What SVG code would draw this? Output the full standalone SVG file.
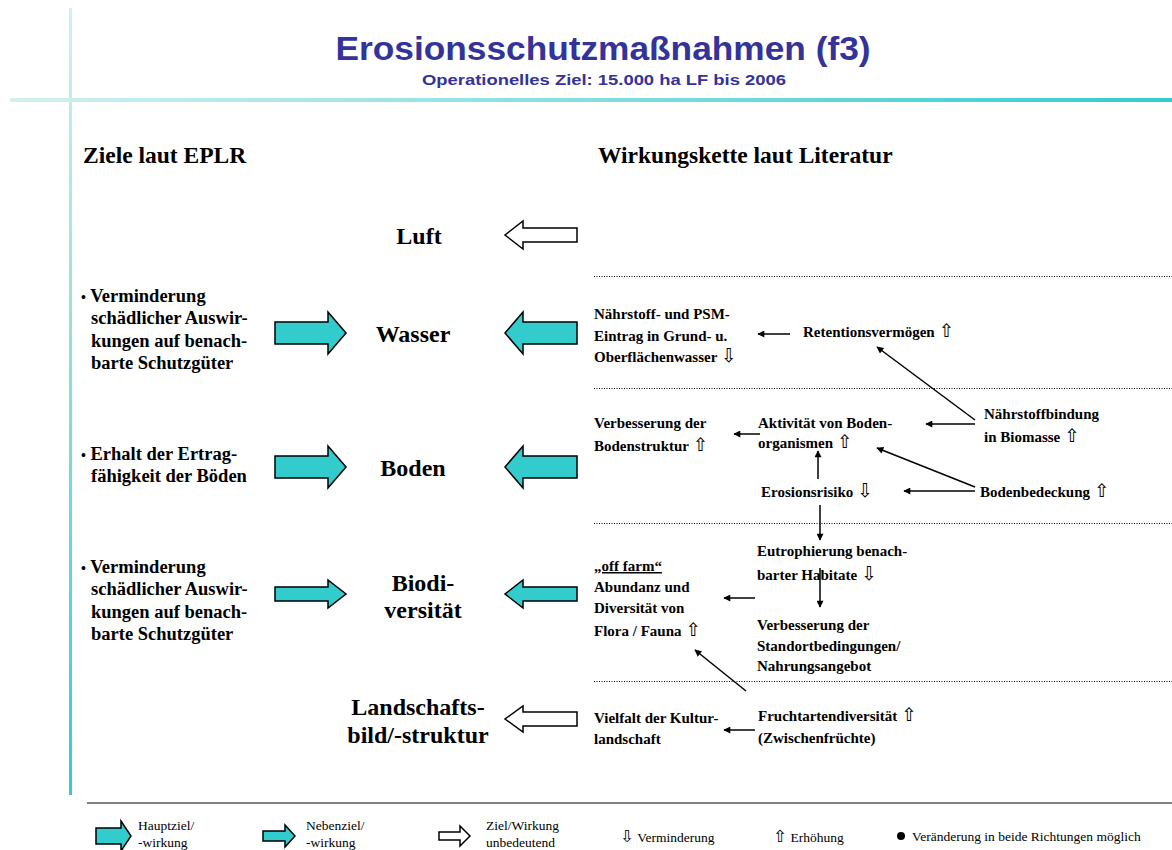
<svg xmlns="http://www.w3.org/2000/svg" width="1172" height="850" viewBox="0 0 1172 850">
<defs>
<linearGradient id="gv" x1="0" y1="0" x2="0" y2="1"><stop offset="0" stop-color="#d2f0f0"/><stop offset="1" stop-color="#33cccc"/></linearGradient>
<linearGradient id="gh" x1="0" y1="0" x2="1" y2="0"><stop offset="0" stop-color="#d2f0f0"/><stop offset="1" stop-color="#33cccc"/></linearGradient>
<marker id="ah" viewBox="0 0 10 10" refX="9" refY="5" markerWidth="9" markerHeight="7" markerUnits="userSpaceOnUse" orient="auto"><path d="M0,0 L10,5 L0,10 Z" fill="#000"/></marker>
<style>
.t{font-family:"Liberation Serif","DejaVu Serif",serif;font-weight:bold;fill:#000}
.h{font-size:23.5px}
.big{font-size:24px;text-anchor:middle}
.l{font-size:18.5px}
.r{font-size:15px}
.lg{font-family:"Liberation Serif","DejaVu Serif",serif;font-size:13.5px;fill:#000}
.sym{font-family:"DejaVu Sans",sans-serif;font-weight:normal;fill:#000;font-variant-emoji:text;font-size:1.25em}
.cy{fill:#33cccc;stroke:#000;stroke-width:1.5}
.wh{fill:#fff;stroke:#000;stroke-width:1.5}
.dot{stroke:#000;stroke-width:1;stroke-dasharray:1 1.5}
.c{stroke:#000;stroke-width:1.5;fill:none;marker-end:url(#ah)}
</style>
</defs>
<rect width="1172" height="850" fill="#fff"/>
<rect x="69" y="8" width="3" height="787" fill="url(#gv)"/>
<rect x="10" y="98" width="1162" height="4" fill="url(#gh)"/>
<g id="title">
<text x="603" y="60" font-family="Liberation Sans,Arial,sans-serif" font-weight="bold" font-size="34" fill="#333399" text-anchor="middle" textLength="535" lengthAdjust="spacingAndGlyphs">Erosionsschutzmaßnahmen (f3)</text>
<text x="604" y="85" font-family="Liberation Sans,Arial,sans-serif" font-weight="bold" font-size="14" fill="#333399" text-anchor="middle" textLength="364" lengthAdjust="spacingAndGlyphs">Operationelles Ziel: 15.000 ha LF bis 2006</text>
</g>
<g id="headers">
<text class="t h" x="83" y="163">Ziele laut EPLR</text>
<text class="t h" x="598" y="163">Wirkungskette laut Literatur</text>
</g>
<g id="separators">
<line class="dot" x1="594" y1="276.5" x2="1172" y2="276.5"/>
<line class="dot" x1="594" y1="388.5" x2="1172" y2="388.5"/>
<line class="dot" x1="594" y1="523.5" x2="1172" y2="523.5"/>
<line class="dot" x1="594" y1="681.5" x2="1172" y2="681.5"/>
</g>
<g id="goal-wasser">
<text class="t l" x="81" y="302"><tspan font-size="14">•</tspan> Verminderung</text>
<text class="t l" x="91" y="324">schädlicher Auswir-</text>
<text class="t l" x="91" y="347">kungen auf benach-</text>
<text class="t l" x="91" y="369">barte Schutzgüter</text>
</g>
<g id="goal-boden">
<text class="t l" x="81" y="460"><tspan font-size="14">•</tspan> Erhalt der Ertrag-</text>
<text class="t l" x="91" y="482">fähigkeit der Böden</text>
</g>
<g id="goal-biodiv">
<text class="t l" x="81" y="573"><tspan font-size="14">•</tspan> Verminderung</text>
<text class="t l" x="91" y="595">schädlicher Auswir-</text>
<text class="t l" x="91" y="618">kungen auf benach-</text>
<text class="t l" x="91" y="640">barte Schutzgüter</text>
</g>
<g id="arrows-goal">
<path class="cy" d="M275,322 H328 V312 L346,333 L328,354 V344 H275 Z"/>
<path class="cy" d="M275,456 H328 V446 L346,467 L328,488 V478 H275 Z"/>
<path class="cy" d="M275,587 H328 V580 L346,594 L328,608 V601 H275 Z"/>
</g>
<g id="node-luft"><text class="t big" x="419" y="244">Luft</text></g>
<g id="node-wasser"><text class="t big" x="413" y="342">Wasser</text></g>
<g id="node-boden"><text class="t big" x="413" y="476">Boden</text></g>
<g id="node-biodiv"><text class="t big" x="423" y="591">Biodi-</text><text class="t big" x="423" y="618">versität</text></g>
<g id="node-landschaft"><text class="t big" x="418" y="715">Landschafts-</text><text class="t big" x="418" y="743">bild/-struktur</text></g>
<g id="arrows-effect">
<path class="wh" d="M577,228 H523 V221 L505,235 L523,249 V242 H577 Z"/>
<path class="cy" d="M577,322 H523 V312 L505,333 L523,354 V344 H577 Z"/>
<path class="cy" d="M577,456 H523 V446 L505,467 L523,488 V478 H577 Z"/>
<path class="cy" d="M577,587 H523 V580 L505,594 L523,608 V601 H577 Z"/>
<path class="wh" d="M577,712 H523 V706 L505,719 L523,732 V726 H577 Z"/>
</g>
<g id="n-eintrag">
<text class="t r" x="594" y="319">Nährstoff- und PSM-</text>
<text class="t r" x="594" y="341">Eintrag in Grund- u.</text>
<text class="t r" x="594" y="362">Oberflächenwasser <tspan class="sym">&#x21E9;&#xFE0E;</tspan></text>
</g>
<g id="n-retention"><text class="t r" x="803" y="337">Retentionsvermögen <tspan class="sym">&#x21E7;&#xFE0E;</tspan></text></g>
<g id="n-bodenstruktur">
<text class="t r" x="594" y="428">Verbesserung der</text>
<text class="t r" x="594" y="451">Bodenstruktur <tspan class="sym">&#x21E7;&#xFE0E;</tspan></text>
</g>
<g id="n-aktivitaet">
<text class="t r" x="758" y="428">Aktivität von Boden-</text>
<text class="t r" x="758" y="448">organismen <tspan class="sym">&#x21E7;&#xFE0E;</tspan></text>
</g>
<g id="n-naehrstoffbindung">
<text class="t r" x="984" y="419">Nährstoffbindung</text>
<text class="t r" x="984" y="442">in Biomasse <tspan class="sym">&#x21E7;&#xFE0E;</tspan></text>
</g>
<g id="n-erosionsrisiko"><text class="t r" x="761" y="497">Erosionsrisiko <tspan class="sym">&#x21E9;&#xFE0E;</tspan></text></g>
<g id="n-bodenbedeckung"><text class="t r" x="980" y="497">Bodenbedeckung <tspan class="sym">&#x21E7;&#xFE0E;</tspan></text></g>
<g id="n-eutrophierung">
<text class="t r" x="757" y="556">Eutrophierung benach-</text>
<text class="t r" x="757" y="580">barter Habitate <tspan class="sym">&#x21E9;&#xFE0E;</tspan></text>
</g>
<g id="n-standort">
<text class="t r" x="757" y="630">Verbesserung der</text>
<text class="t r" x="757" y="651">Standortbedingungen/</text>
<text class="t r" x="757" y="671">Nahrungsangebot</text>
</g>
<g id="n-abundanz">
<text class="t r" x="594" y="571" text-decoration="underline">„off farm“</text>
<text class="t r" x="594" y="592">Abundanz und</text>
<text class="t r" x="594" y="613">Diversität von</text>
<text class="t r" x="594" y="636">Flora / Fauna <tspan class="sym">&#x21E7;&#xFE0E;</tspan></text>
</g>
<g id="n-vielfalt">
<text class="t r" x="594" y="723">Vielfalt der Kultur-</text>
<text class="t r" x="594" y="744">landschaft</text>
</g>
<g id="n-frucht">
<text class="t r" x="758" y="721">Fruchtartendiversität <tspan class="sym">&#x21E7;&#xFE0E;</tspan></text>
<text class="t r" x="758" y="743">(Zwischenfrüchte)</text>
</g>
<g id="connectors">
<line class="c" x1="790" y1="334" x2="758" y2="334"/>
<line class="c" x1="975" y1="420" x2="877" y2="347"/>
<line class="c" x1="760" y1="434" x2="734" y2="434"/>
<line class="c" x1="975" y1="424" x2="926" y2="424"/>
<line class="c" x1="975" y1="491" x2="904" y2="491"/>
<line class="c" x1="975" y1="487" x2="877" y2="448"/>
<line class="c" x1="818" y1="479" x2="818" y2="451"/>
<line class="c" x1="820" y1="505" x2="820" y2="540"/>
<line class="c" x1="820" y1="568" x2="820" y2="607"/>
<line class="c" x1="755" y1="598" x2="724" y2="598"/>
<line class="c" x1="746" y1="691" x2="695" y2="650"/>
<line class="c" x1="755" y1="730" x2="724" y2="730"/>
</g>
<g id="legend">
<line x1="87" y1="803" x2="1172" y2="803" stroke="#808080" stroke-width="2"/>
<path class="cy" d="M96,828 H121 V821 L131,836 L121,851 V844 H96 Z"/>
<text class="lg" x="138" y="830">Hauptziel/</text>
<text class="lg" x="138" y="847">-wirkung</text>
<path class="cy" d="M263,831 H285 V825 L295,836 L285,847 V841 H263 Z"/>
<text class="lg" x="306" y="830">Nebenziel/</text>
<text class="lg" x="306" y="847">-wirkung</text>
<path class="wh" d="M439,832 H460 V826 L470,836 L460,846 V840 H439 Z"/>
<text class="lg" x="486" y="830">Ziel/Wirkung</text>
<text class="lg" x="486" y="847">unbedeutend</text>
<text class="lg" x="620" y="842"><tspan class="sym">&#x21E9;&#xFE0E;</tspan> Verminderung</text>
<text class="lg" x="773" y="842"><tspan class="sym">&#x21E7;&#xFE0E;</tspan> Erhöhung</text>
<circle cx="901" cy="836" r="4" fill="#000"/>
<text class="lg" x="912" y="841">Veränderung in beide Richtungen möglich</text>
</g>
</svg>
